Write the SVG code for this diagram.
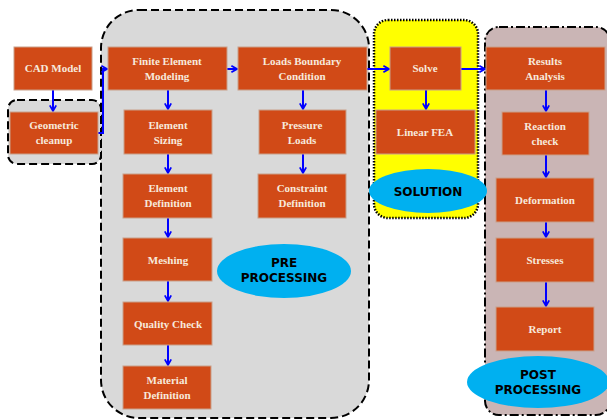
<svg xmlns="http://www.w3.org/2000/svg" width="607" height="419" viewBox="0 0 607 419">
  <style>
    .box { fill: #d14a17; stroke: #c9a08a; stroke-width: 1; }
    .lbl { font-family: "Liberation Serif", serif; font-weight: bold; font-size: 11px; fill: #f7e9dc; text-anchor: middle; }
    .tag { fill: #00b0f0; }
    .tagtxt { font-family: "DejaVu Sans", sans-serif; font-weight: bold; font-size: 12px; fill: #000; text-anchor: middle; }
    .conn { fill: none; stroke: #0000ff; stroke-width: 2; marker-end: url(#arr); }
  </style>
  <defs>
    <marker id="arr" viewBox="0 0 10 10" refX="9" refY="5" markerWidth="8" markerHeight="8" orient="auto" markerUnits="userSpaceOnUse">
      <path d="M2,1 L9,5 L2,9" fill="none" stroke="#0000ff" stroke-width="2.2"/>
    </marker>
  </defs>
  <rect width="607" height="419" fill="#ffffff"/>

  <!-- stage groups -->
  <g id="pre-stage">
    <rect x="101" y="10" width="268" height="408" rx="38" fill="#d9d9d9" stroke="#000" stroke-width="2" stroke-dasharray="8,4"/>
  </g>
  <g id="cleanup-stage">
    <rect x="8" y="100" width="93" height="64" rx="9" fill="#d9d9d9" stroke="#000" stroke-width="2" stroke-dasharray="8,4"/>
  </g>
  <g id="solution-stage">
    <rect x="374" y="20" width="104" height="198" rx="14" fill="#ffff00" stroke="#000" stroke-width="2.5" stroke-dasharray="1.5,1.5"/>
  </g>
  <g id="post-stage">
    <rect x="485" y="27" width="125" height="388" rx="14" fill="#cab5b5" stroke="#000" stroke-width="2" stroke-dasharray="9,3,2,3"/>
  </g>

  <!-- connectors -->
  <g id="connectors">
    <path class="conn" d="M53,90 L53,111"/>
    <path class="conn" d="M98,133 L103,133 L103,69 L107,69"/>
    <path class="conn" d="M227,69 L237,69"/>
    <path class="conn" d="M367,69 L389,69"/>
    <path class="conn" d="M461,69 L485,69"/>
    <path class="conn" d="M426,90 L426,109"/>
    <path class="conn" d="M168,90 L168,109"/>
    <path class="conn" d="M168,154 L168,173"/>
    <path class="conn" d="M168,218 L168,237"/>
    <path class="conn" d="M168,281 L168,301"/>
    <path class="conn" d="M168,345 L168,365"/>
    <path class="conn" d="M303,90 L303,109"/>
    <path class="conn" d="M303,154 L303,173"/>
    <path class="conn" d="M546,90 L546,111"/>
    <path class="conn" d="M546,155 L546,177"/>
    <path class="conn" d="M546,222 L546,237"/>
    <path class="conn" d="M546,282 L546,306"/>
  </g>

  <!-- process steps -->
  <g id="cad-model"><rect class="box" x="14" y="47" width="78" height="43"/><text class="lbl" x="53" y="72">CAD Model</text></g>
  <g id="geometric-cleanup"><rect class="box" x="10" y="112" width="88" height="42"/><text class="lbl" x="54" y="129">Geometric</text><text class="lbl" x="54" y="144">cleanup</text></g>
  <g id="fe-modeling"><rect class="box" x="108" y="47" width="119" height="43"/><text class="lbl" x="167" y="65">Finite Element</text><text class="lbl" x="167" y="80">Modeling</text></g>
  <g id="element-sizing"><rect class="box" x="124" y="110" width="88" height="44"/><text class="lbl" x="168" y="129">Element</text><text class="lbl" x="168" y="144">Sizing</text></g>
  <g id="element-definition"><rect class="box" x="123" y="174" width="89" height="44"/><text class="lbl" x="168" y="192">Element</text><text class="lbl" x="168" y="207">Definition</text></g>
  <g id="meshing"><rect class="box" x="123" y="238" width="89" height="43"/><text class="lbl" x="168" y="264">Meshing</text></g>
  <g id="quality-check"><rect class="box" x="123" y="302" width="89" height="43"/><text class="lbl" x="168" y="328">Quality Check</text></g>
  <g id="material-definition"><rect class="box" x="123" y="366" width="88" height="43"/><text class="lbl" x="167" y="384">Material</text><text class="lbl" x="167" y="399">Definition</text></g>
  <g id="loads-bc"><rect class="box" x="238" y="47" width="129" height="43"/><text class="lbl" x="302" y="65">Loads Boundary</text><text class="lbl" x="302" y="80">Condition</text></g>
  <g id="pressure-loads"><rect class="box" x="259" y="110" width="87" height="44"/><text class="lbl" x="302" y="129">Pressure</text><text class="lbl" x="302" y="144">Loads</text></g>
  <g id="constraint-definition"><rect class="box" x="258" y="174" width="88" height="44"/><text class="lbl" x="302" y="192">Constraint</text><text class="lbl" x="302" y="207">Definition</text></g>
  <g id="solve"><rect class="box" x="390" y="47" width="71" height="43"/><text class="lbl" x="425" y="72">Solve</text></g>
  <g id="linear-fea"><rect class="box" x="376" y="110" width="99" height="44"/><text class="lbl" x="425" y="136">Linear FEA</text></g>
  <g id="results-analysis"><rect class="box" x="486" y="47" width="119" height="43"/><text class="lbl" x="545" y="65">Results</text><text class="lbl" x="545" y="80">Analysis</text></g>
  <g id="reaction-check"><rect class="box" x="502" y="112" width="87" height="43"/><text class="lbl" x="545" y="130">Reaction</text><text class="lbl" x="545" y="145">check</text></g>
  <g id="deformation"><rect class="box" x="496" y="178" width="98" height="44"/><text class="lbl" x="545" y="204">Deformation</text></g>
  <g id="stresses"><rect class="box" x="496" y="238" width="98" height="44"/><text class="lbl" x="545" y="264">Stresses</text></g>
  <g id="report"><rect class="box" x="496" y="307" width="98" height="44"/><text class="lbl" x="545" y="333">Report</text></g>

  <!-- stage labels -->
  <g id="pre-label"><ellipse class="tag" cx="284" cy="271" rx="67" ry="27"/><text class="tagtxt" x="284" y="267">PRE</text><text class="tagtxt" x="284" y="282">PROCESSING</text></g>
  <g id="solution-label"><ellipse class="tag" cx="428" cy="191" rx="59" ry="22"/><text class="tagtxt" x="428" y="196">SOLUTION</text></g>
  <g id="post-label"><ellipse class="tag" cx="538" cy="382" rx="71" ry="26"/><text class="tagtxt" x="538" y="379">POST</text><text class="tagtxt" x="538" y="394">PROCESSING</text></g>
</svg>
